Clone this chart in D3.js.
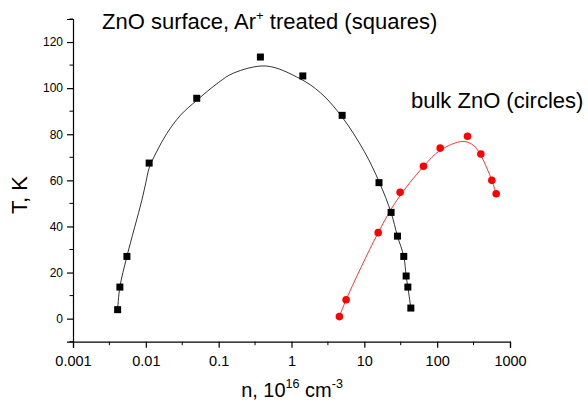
<!DOCTYPE html>
<html>
<head>
<meta charset="utf-8">
<script src="https://cdn.jsdelivr.net/npm/d3@7"></script>
<style>
	body { margin: 0; background: #fff; }
	svg text { font-family: Arial, "Liberation Sans", sans-serif; fill: #000; }
</style>
</head>
<body>
<svg id="chart" width="588" height="405"></svg>
<script>
// ZnO surface vs bulk, T versus carrier density n

// squares: ZnO surface, Ar+ treated
var surfN = [0.0041, 0.0044, 0.0055, 0.0111, 0.05, 0.374, 1.43, 4.96, 15.9, 23.3, 28.5, 34.8, 37.5, 39.6, 43.5]
var surfT = [3.9, 13.7, 27, 67.5, 95.6, 113.5, 105.3, 88.2, 59, 46.1, 35.8, 27, 18.5, 13.7, 4.6]

// circles: bulk ZnO
var bulkN = [4.55, 5.62, 15.5, 31, 64.9, 110, 261, 398, 563, 646]
var bulkT = [0.9, 8.2, 37.3, 54.8, 66.1, 74, 79.1, 71.4, 60, 54.2]

// fitted curves
var surfFitN = [0.0041, 0.0044, 0.0055, 0.0088, 0.01, 0.0111, 0.014, 0.0194, 0.03, 0.05, 0.1, 0.159, 0.45, 1.31, 2.5, 4.95, 10, 16, 23.3, 28.5, 34.8, 37.5, 39.6, 43.5]
var surfFitT = [3.9, 13.7, 27, 51.3, 59, 65.3, 72.3, 80.3, 88.3, 94.7, 102.5, 106.5, 109.6, 104.1, 98, 87.5, 72.5, 59.3, 46, 35.8, 27, 18.5, 13.7, 4.6]
var bulkFitN = [4.55, 5.62, 15.5, 27.9, 64.9, 110, 225, 320, 398, 563, 646]
var bulkFitT = [0.9, 8.2, 37.3, 51.3, 66, 73, 76.9, 75, 70.8, 60, 54.2]

var xTicks = [0.001, 0.01, 0.1, 1, 10, 100, 1000]
var xMinor = [0.00316, 0.0316, 0.316, 3.16, 31.6, 316]
var yTicks = [0, 20, 40, 60, 80, 100, 120]
var yMinor = [-10, 10, 30, 50, 70, 90, 110, 130]

var svg = d3.select('#chart'),
	plotLeft = 73, plotRight = 510, plotTop = 19, plotBottom = 341.7

var x = d3.scaleLog().domain([0.001, 1000]).range([plotLeft, plotRight])
var y = d3.scaleLinear().domain([-10, 130]).range([plotBottom, plotTop])

// axes
var xAxis = svg.append('g').attr('transform', 'translate(0,' + plotBottom + ')')
	.call(d3.axisBottom(x).tickValues(xTicks).tickSize(6).tickPadding(8)
		.tickFormat(function(d) { return d < 1 ? String(d) : d3.format('d')(d) }))
	.attr('font-size', 14.5).attr('font-family', null)
xAxis.selectAll('text').style('font-size', '14.5px')
xAxis.append('g').selectAll('line').data(xMinor).enter().append('line')
	.attr('x1', function(d) { return x(d) }).attr('x2', function(d) { return x(d) })
	.attr('y1', 0).attr('y2', 3.5).attr('stroke', '#000')

var yAxis = svg.append('g').attr('transform', 'translate(' + plotLeft + ',0)')
	.call(d3.axisLeft(y).tickValues(yTicks).tickSize(6).tickPadding(4))
	.attr('font-size', 12).attr('font-family', null)
yAxis.selectAll('text').style('font-size', '12px')
yAxis.append('g').selectAll('line').data(yMinor).enter().append('line')
	.attr('y1', function(d) { return y(d) }).attr('y2', function(d) { return y(d) })
	.attr('x1', 0).attr('x2', -3.5).attr('stroke', '#000')

svg.selectAll('.domain').attr('stroke-width', 1.2)
svg.selectAll('.tick line').attr('stroke-width', 1.2)

// fitted lines
var line = d3.line().curve(d3.curveCatmullRom.alpha(0.5))
	.x(function(d) { return x(d[0]) }).y(function(d) { return y(d[1]) })

svg.append('path').datum(d3.zip(surfFitN, surfFitT))
	.attr('d', line).attr('fill', 'none').attr('stroke', '#000').attr('stroke-width', 0.8)
svg.append('path').datum(d3.zip(bulkFitN, bulkFitT))
	.attr('d', line).attr('fill', 'none').attr('stroke', '#ff0000').attr('stroke-width', 0.8)

// markers
svg.append('g').selectAll('rect').data(d3.zip(surfN, surfT)).enter().append('rect')
	.attr('x', function(d) { return x(d[0]) - 3.5 }).attr('y', function(d) { return y(d[1]) - 3.5 })
	.attr('width', 7).attr('height', 7).attr('fill', '#000')
svg.append('g').selectAll('circle').data(d3.zip(bulkN, bulkT)).enter().append('circle')
	.attr('cx', function(d) { return x(d[0]) }).attr('cy', function(d) { return y(d[1]) })
	.attr('r', 3.8).attr('fill', '#ff0000')

// labels
var t1 = svg.append('text').attr('x', 102).attr('y', 29).style('font-size', '22px')
t1.append('tspan').text('ZnO surface, Ar')
t1.append('tspan').text('+').attr('dy', -9).style('font-size', '13px')
t1.append('tspan').text(' treated (squares)').attr('dy', 9)

svg.append('text').attr('x', 411).attr('y', 108).style('font-size', '22px').text('bulk ZnO (circles)')

var xl = svg.append('text').attr('x', 292).attr('y', 396.5).attr('text-anchor', 'middle').style('font-size', '20px')
xl.append('tspan').text('n, 10')
xl.append('tspan').text('16').attr('dy', -9).style('font-size', '12.5px')
xl.append('tspan').text(' cm').attr('dy', 9)
xl.append('tspan').text('-3').attr('dy', -9).style('font-size', '12.5px')

svg.append('text').attr('transform', 'translate(27,195) rotate(-90)').attr('text-anchor', 'middle')
	.style('font-size', '22px').text('T, K')
</script>
</body>
</html>
